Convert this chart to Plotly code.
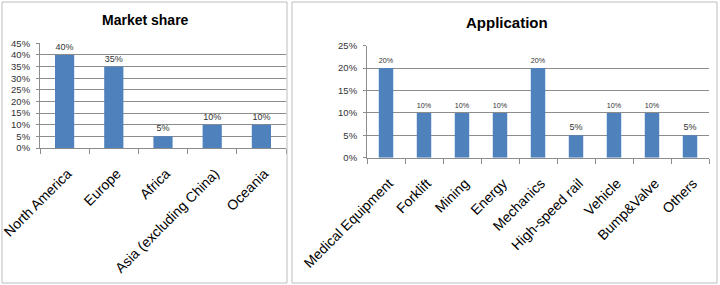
import plotly.graph_objects as go

W, H = 720, 285

regions = ["North America", "Europe", "Africa", "Asia (excluding China)", "Oceania"]
region_share = [0.40, 0.35, 0.05, 0.10, 0.10]

apps = ["Medical Equipment", "Forklift", "Mining", "Energy", "Mechanics",
        "High-speed rail", "Vehicle", "Bump&Valve", "Others"]
app_share = [0.20, 0.10, 0.10, 0.10, 0.20, 0.05, 0.10, 0.10, 0.05]

left_ticks = [0, 0.05, 0.10, 0.15, 0.20, 0.25, 0.30, 0.35, 0.40, 0.45]
right_ticks = [0, 0.05, 0.10, 0.15, 0.20, 0.25]

BAR = "#4F81BD"
GRID = "#8c8c8c"
FONT = "Liberation Sans, Arial, sans-serif"

fig = go.Figure()
fig.add_trace(go.Bar(x=regions, y=region_share, marker=dict(color=BAR, line=dict(width=0)),
                     width=0.39, text=region_share, texttemplate="%{y:.0%}",
                     textposition="outside", cliponaxis=False,
                     textfont=dict(size=9, color="#333333", family=FONT),
                     xaxis="x", yaxis="y", hoverinfo="skip"))
fig.add_trace(go.Bar(x=apps, y=app_share, marker=dict(color=BAR, line=dict(width=0)),
                     width=0.38, text=app_share, texttemplate="%{y:.0%}",
                     textposition="outside", cliponaxis=False,
                     textfont=dict(size=9, color="#333333", family=FONT),
                     xaxis="x2", yaxis="y2", hoverinfo="skip"))

def px_x(v):
    return v / W

def px_y(v):
    return 1 - v / H

xcommon = dict(type="category", showgrid=False, showline=True, linecolor=GRID, linewidth=1,
               ticks="outside", tickson="boundaries", ticklen=5, tickcolor=GRID,
               tickangle=-45, automargin=False, ticklabelstandoff=11, ticklabelshift=3,
               tickfont=dict(size=14, color="#000000", family=FONT))
ycommon = dict(showgrid=True, gridcolor=GRID, gridwidth=1, showline=True, linecolor=GRID,
               linewidth=1, ticks="outside", ticklen=3, tickcolor=GRID, tickformat=".0%",
               automargin=False, ticklabelstandoff=4,
               tickfont=dict(size=9.5, color="#333333", family=FONT), zeroline=False)

fig.update_layout(
    width=W, height=H, autosize=False,
    margin=dict(l=0, r=0, t=0, b=0),
    paper_bgcolor="white", plot_bgcolor="white",
    showlegend=False, bargap=0.6,
    xaxis=dict(domain=[px_x(40), px_x(286)], anchor="y", **xcommon),
    yaxis=dict(domain=[px_y(148), px_y(43.3)], anchor="x", range=[0, 0.45],
               tickvals=left_ticks, **ycommon),
    xaxis2=dict(domain=[px_x(367), px_x(709)], anchor="y2", **xcommon),
    yaxis2=dict(domain=[px_y(157.7), px_y(45.7)], anchor="x2", range=[0, 0.25],
                tickvals=right_ticks, **ycommon),
    shapes=[
        dict(type="rect", xref="paper", yref="paper", x0=px_x(2), x1=px_x(287),
             y0=px_y(283), y1=px_y(2), line=dict(color="#bdbdbd", width=1)),
        dict(type="rect", xref="paper", yref="paper", x0=px_x(292), x1=px_x(717),
             y0=px_y(283), y1=px_y(2), line=dict(color="#bdbdbd", width=1)),
    ],
    annotations=[
        dict(text="<b>Market share</b>", xref="paper", yref="paper", x=px_x(145), y=px_y(20),
             xanchor="center", yanchor="middle",
             showarrow=False, font=dict(size=14, color="#000000", family=FONT)),
        dict(text="<b>Application</b>", xref="paper", yref="paper", x=px_x(507), y=px_y(22),
             xanchor="center", yanchor="middle",
             showarrow=False, font=dict(size=15, color="#000000", family=FONT)),
    ],
)

fig.write_html("out.html")
